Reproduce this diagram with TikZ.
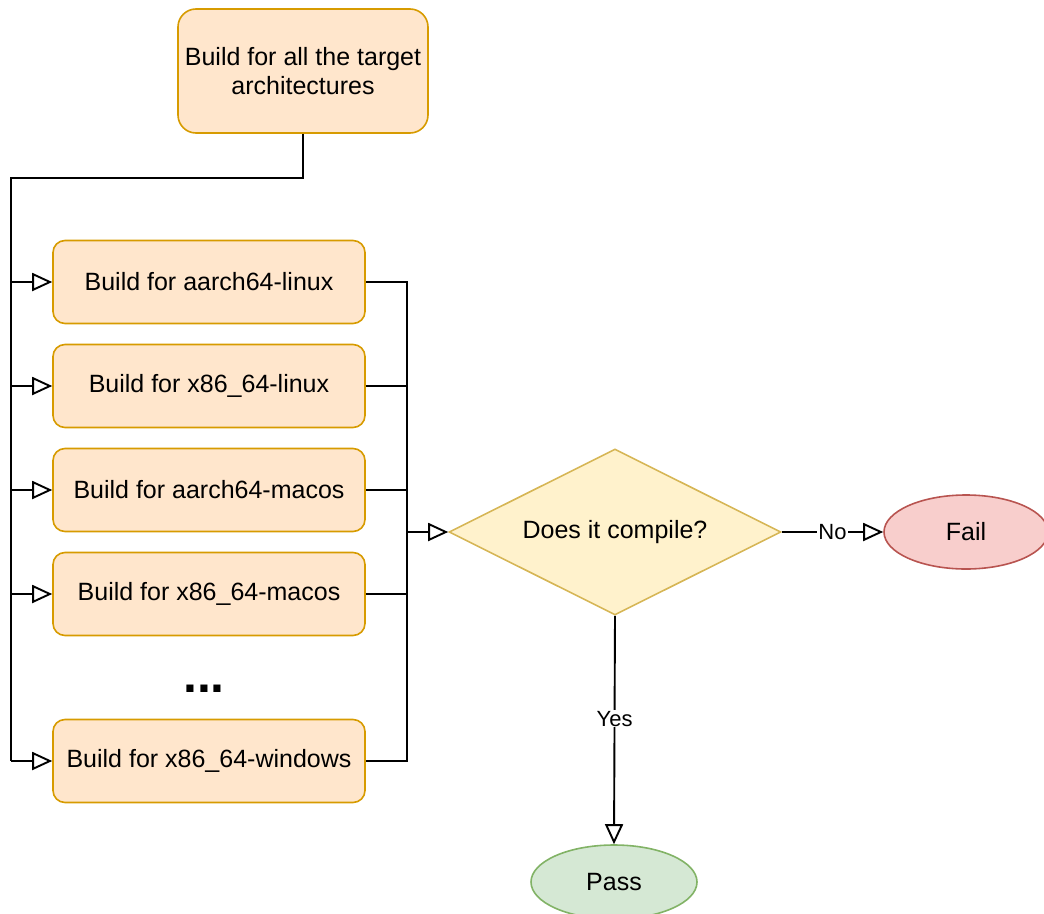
\documentclass[tikz,border=0pt]{standalone}
\usepackage{fontspec}
\setmainfont{Liberation Sans}
\usetikzlibrary{shapes.geometric,arrows.meta}
\definecolor{ofill}{HTML}{FFE6CC}
\definecolor{ostroke}{HTML}{D79B00}
\definecolor{yfill}{HTML}{FFF2CC}
\definecolor{ystroke}{HTML}{D6B656}
\definecolor{rfill}{HTML}{F8CECC}
\definecolor{rstroke}{HTML}{B85450}
\definecolor{gfill}{HTML}{D5E8D4}
\definecolor{gstroke}{HTML}{82B366}
\begin{document}
\begin{tikzpicture}[x=1pt,y=-1pt,
  every node/.style={font=\fontsize{25}{29}\selectfont},
  box/.style={draw=ostroke,fill=ofill,line width=1.6pt,rounded corners=12pt,minimum width=312pt,minimum height=83pt,inner sep=0pt},
  topbox/.style={draw=ostroke,fill=ofill,line width=1.6pt,rounded corners=18pt,minimum width=250pt,minimum height=124pt,inner sep=0pt,align=center},
  conn/.style={line width=1.9pt},
  arr/.style={line width=1.9pt,-{Triangle[open,length=20pt,width=18pt,fill=white]}},
  lbl/.style={fill=white,inner sep=1pt,font=\fontsize{22}{25}\selectfont}]
\useasboundingbox (0,0) rectangle (1044,913);
\node[topbox] (top) at (303,71) {Build for all the target\\architectures};
\node[box] (b1) at (209,282) {Build for aarch64-linux};
\node[box] (b2) at (209,386) {Build for x86\_64-linux};
\node[box] (b3) at (209,490) {Build for aarch64-macos};
\node[box] (b4) at (209,594) {Build for x86\_64-macos};
\node[box] (b5) at (209,761) {Build for x86\_64-windows};
\node[font=\fontsize{50}{50}\selectfont\bfseries] (dots) at (204,689) {...};
\node[diamond,aspect=2,draw=ystroke,fill=yfill,line width=1.6pt,minimum width=332pt,minimum height=166pt,inner sep=0pt] (dia) at (615,532) {\raisebox{5pt}{Does it compile?}};
\node[ellipse,draw=rstroke,fill=rfill,line width=1.6pt,minimum width=164pt,minimum height=74pt,inner sep=0pt] (fail) at (966,532) {Fail};
\node[ellipse,draw=gstroke,fill=gfill,line width=1.6pt,minimum width=166pt,minimum height=74pt,inner sep=0pt] (pass) at (614,882) {Pass};
% left bus
\coordinate (j0) at (11,178);
\coordinate (l1) at (11,282);
\coordinate (l2) at (11,386);
\coordinate (l3) at (11,490);
\coordinate (l4) at (11,594);
\coordinate (l5) at (11,761);
\draw[conn] (top.south) |- (j0) -- (l5);
\draw[arr] (l1) -- (b1.west);
\draw[arr] (l2) -- (b2.west);
\draw[arr] (l3) -- (b3.west);
\draw[arr] (l4) -- (b4.west);
\draw[arr] (l5) -- (b5.west);
% right bus
\coordinate (r1) at (407,282);
\coordinate (r2) at (407,386);
\coordinate (r3) at (407,490);
\coordinate (r4) at (407,594);
\coordinate (r5) at (407,761);
\coordinate (rm) at (407,532);
\draw[conn] (b1.east) -- (r1) -- (r5) -- (b5.east);
\draw[conn] (b2.east) -- (r2);
\draw[conn] (b3.east) -- (r3);
\draw[conn] (b4.east) -- (r4);
\draw[arr] (rm) -- (dia.west);
\draw[arr] (dia.east) -- (fail.west) node[lbl,midway] {No};
\draw[arr] (dia.south) -- (pass.north) node[lbl,pos=0.45] {Yes};
\end{tikzpicture}
\end{document}
